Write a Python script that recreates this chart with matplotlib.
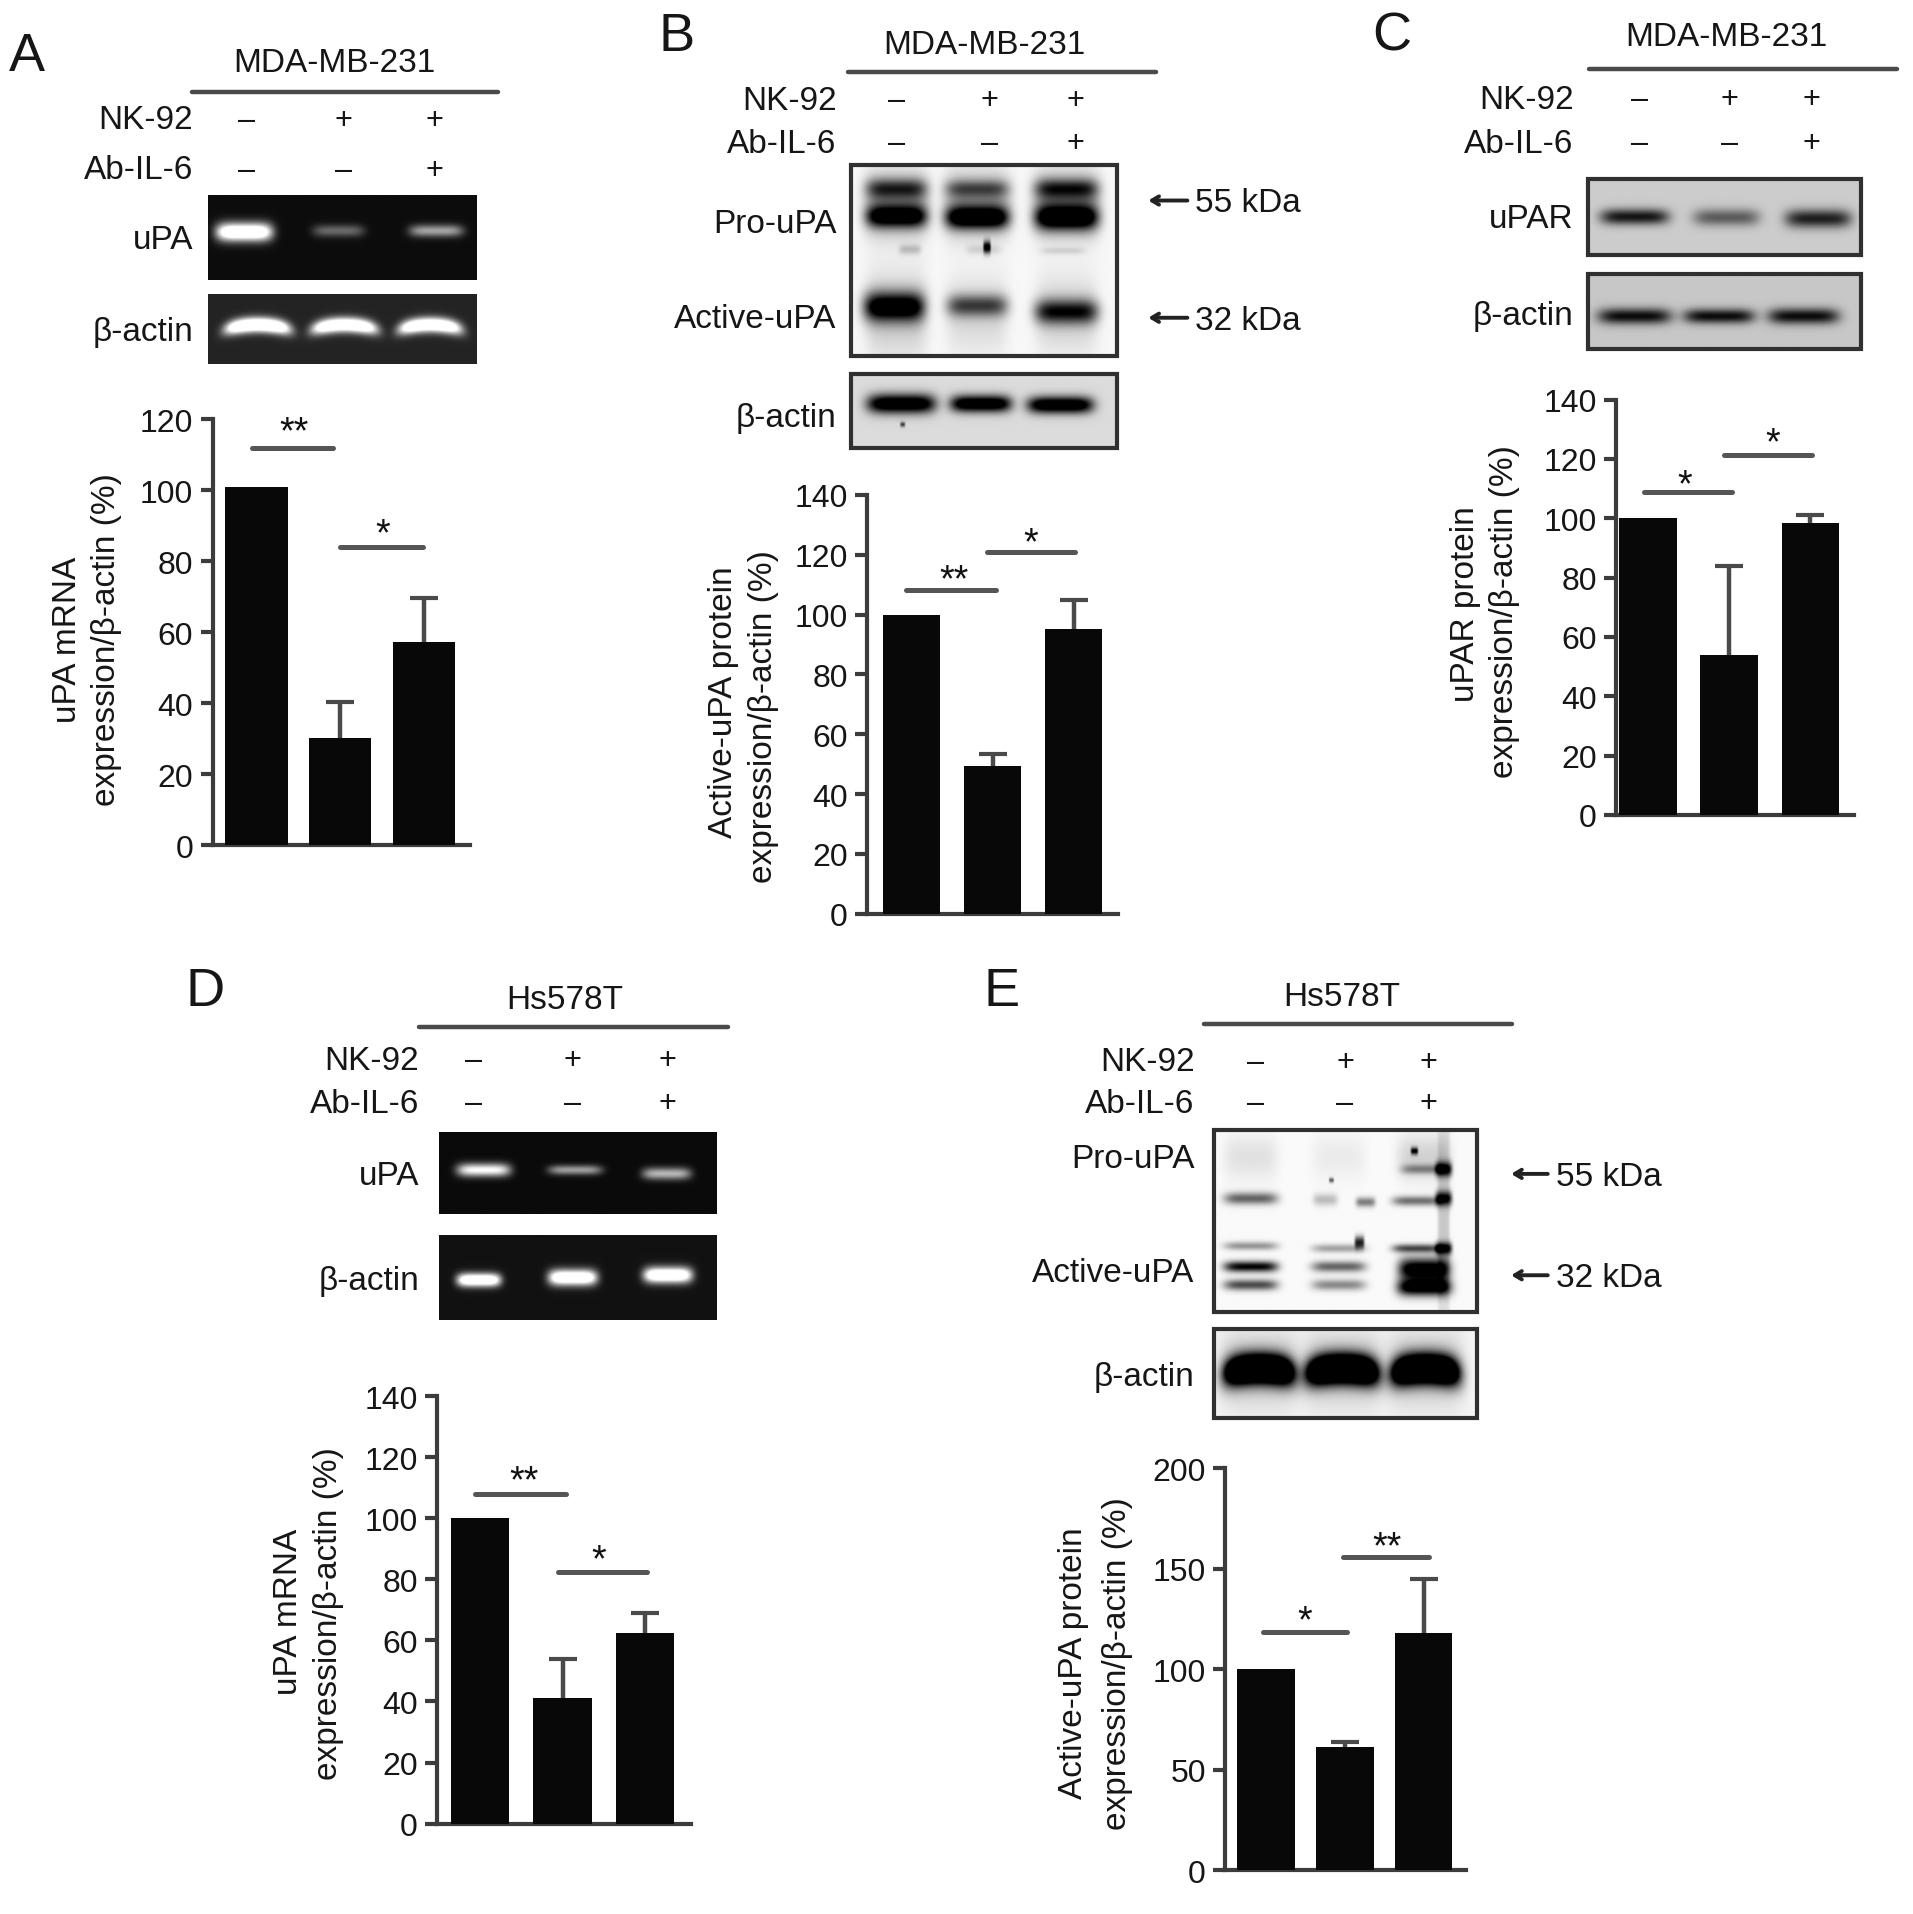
import numpy as np
import matplotlib
matplotlib.use("Agg")
import matplotlib.pyplot as plt
from matplotlib.patches import Rectangle

plt.rcParams['font.family'] = ['Liberation Sans', 'DejaVu Sans']

# values
groups = ["Control", "NK-92", "NK-92 + Ab-IL-6"]
a_values = [101, 30.2, 57.2]
a_err = [0, 10.1, 12.5]
b_values = [100, 49.5, 95]
b_err = [0, 4, 10]
c_values = [100, 54, 98.5]
c_err = [0, 30, 2.5]
d_values = [100, 41, 62.5]
d_err = [0, 13, 6.5]
e_values = [100, 61, 118]
e_err = [0, 2.5, 27]

a_ticks = [0, 20, 40, 60, 80, 100, 120]
b_ticks = [0, 20, 40, 60, 80, 100, 120, 140]
c_ticks = b_ticks
d_ticks = b_ticks
e_ticks = [0, 50, 100, 150, 200]

nk92_row = ["–", "+", "+"]
ab_row = ["–", "–", "+"]

# everything below is placed in the coordinates of the 1566x1568 preview
W, H = 1566.0, 1568.0
TEXT = '#161616'
LINE = '#3c3c3c'

fig = plt.figure(figsize=(19.13, 19.15), dpi=100, facecolor='white')
ov = fig.add_axes([0, 0, 1, 1], zorder=5)
ov.patch.set_alpha(0)
ov.axis('off')


def bar_panel(values, err, ticks, spine_x, y0, ytop, xend, centers, bar_w):
    pos = [spine_x / W, 1 - y0 / H, (xend - spine_x) / W, (y0 - ytop) / H]
    ax = fig.add_axes(pos)
    step = centers[1] - centers[0]
    ax.set_xlim((spine_x - centers[0]) / step, (xend - centers[0]) / step)
    ax.set_ylim(ticks[0], ticks[-1])
    x = np.arange(len(values))
    ax.bar(x, values, width=bar_w / step, color='#080808', zorder=3)
    eb = ax.errorbar(x[1:], values[1:], yerr=[np.zeros(2), err[1:]], fmt='none', ecolor='#4a4a4a',
                     elinewidth=3.2, capsize=10, capthick=3, zorder=2)
    # only the upper cap shows in the figure
    eb[1][0].set_visible(False)
    for s in ['top', 'right']:
        ax.spines[s].set_visible(False)
    for s in ['left', 'bottom']:
        ax.spines[s].set_linewidth(3)
        ax.spines[s].set_color(LINE)
    ax.set_xticks([])
    ax.set_yticks(ticks)
    ax.tick_params(axis='y', length=9, width=3, color=LINE, labelsize=23, labelcolor=TEXT, pad=5)
    return ax


def gel(box, blobs, bg, dark=False, border=True):
    x0, x1, y0, y1 = box
    xx, yy = np.meshgrid(np.linspace(x0, x1, int((x1 - x0) * 2)), np.linspace(y0, y1, int((y1 - y0) * 2)))
    layer = np.zeros_like(xx)
    for blob in blobs:
        cx, cy, sx, sy, amount = blob[:5]
        bend = blob[5] if len(blob) > 5 else 0
        u = (xx - cx) / sx
        layer += amount * np.exp(-np.abs(u) ** 5 - np.abs((yy - cy - bend * u ** 2) / sy) ** 2)
    layer = np.clip(layer, 0, 1)
    img = bg + (1 - bg) * layer if dark else bg * (1 - layer)
    ov.imshow(img, cmap='gray', vmin=0, vmax=1, extent=(x0, x1, y1, y0), aspect='auto',
              interpolation='bilinear', zorder=1)
    if border:
        ov.add_patch(Rectangle((x0, y0), x1 - x0, y1 - y0, fc='none', ec='#303030', lw=3, zorder=2))


def header(letter, lx, ly, cell, cx, cy, lx0, lx1, line_y, label_x, rows_y, marks_x):
    ov.text(lx, ly + 3, letter, fontsize=39, color=TEXT, ha='center', va='center')
    ov.text(cx, cy + 2, cell, fontsize=24, color=TEXT, ha='center', va='center')
    ov.plot([lx0, lx1], [line_y, line_y], color='#4a4a4a', lw=3.2, solid_capstyle='round')
    for name, row, y in zip(["NK-92", "Ab-IL-6"], [nk92_row, ab_row], rows_y):
        ov.text(label_x, y + 2, name, fontsize=24, color=TEXT, ha='right', va='center')
        for mx, mark in zip(marks_x, row):
            ov.text(mx, y + 2, mark, fontsize=22, color=TEXT, ha='center', va='center')


def side_labels(x, items):
    for label, y in items:
        ov.text(x, y + 2, label, fontsize=24, color=TEXT, ha='right', va='center')


def y_labels(x1, y1, first, x2, y2, second):
    ov.text(x1, y1, first, fontsize=24, color=TEXT, rotation=90, ha='center', va='center')
    ov.text(x2, y2, second, fontsize=24, color=TEXT, rotation=90, ha='center', va='center')


def sig(x0, x1, y, stars, sx, sy):
    ov.plot([x0, x1], [y, y], color='#555555', lw=3.6, solid_capstyle='round')
    ov.text(sx, sy + 6, stars, fontsize=27, color='#111111', ha='center', va='center')


def kda(x0, x1, tx, y, label):
    ov.annotate("", xy=(x0, y), xytext=(x1, y),
                arrowprops=dict(arrowstyle='->,head_length=0.5,head_width=0.3', lw=2.8, color='#222222',
                                shrinkA=0, shrinkB=0))
    ov.text(tx, y + 2, label, fontsize=24, color=TEXT, ha='left', va='center')


# ---- panel A
header("A", 22, 44, "MDA-MB-231", 274, 50, 157, 408, 76, 158, [97, 138], [202, 281, 356])
side_labels(158, [("uPA", 195), ("β-actin", 270)])
gel((170.5, 390, 161, 230), [(200, 191, 23, 7.5, 1.4), (277, 190, 21, 5, 0.38), (357, 190, 22, 5, 0.62)],
    0.05, dark=True, border=False)
gel((170.5, 390, 242, 299), [(211, 267, 27, 6, 1.6, 4), (282, 267, 27, 6, 1.5, 4), (352, 267, 26, 6, 1.5, 4)],
    0.14, dark=True, border=False)
bar_panel(a_values, a_err, a_ticks, 174, 693, 344, 385, [210, 278.5, 347.5], 51)
y_labels(55, 524, "uPA mRNA", 87, 524, "expression/β-actin (%)")
sig(206, 273, 368, "**", 241, 349)
sig(278, 346, 449, "*", 313, 432)

# ---- panel B
header("B", 554, 27, "MDA-MB-231", 806, 35, 694, 946, 60, 685, [81, 116], [734, 810, 880])
side_labels(685, [("Pro-uPA", 182), ("Active-uPA", 260), ("β-actin", 341)])
gel((697, 914, 136, 292),
    [(734, 168, 26, 24, 0.42), (800, 168, 27, 24, 0.42), (873, 168, 27, 24, 0.45),
     (734, 155, 25, 8, 0.6), (800, 155, 26, 7, 0.45), (873, 155, 26, 8, 0.65),
     (734, 178, 25, 9, 1.0), (800, 179, 26, 9, 1.1), (873, 179, 26, 10, 1.1),
     (734, 258, 25, 34, 0.2), (800, 258, 25, 30, 0.14), (873, 258, 25, 30, 0.17),
     (732, 252, 25, 12, 1.1), (800, 251, 25, 9, 0.65), (873, 256, 26, 10, 0.85),
     (808, 203, 3, 5, 1.0), (745, 205, 9, 4, 0.2), (805, 205, 14, 4, 0.12), (870, 206, 18, 3, 0.12)],
    0.97)
gel((697, 914, 307, 368), [(738, 332, 28, 8, 1.3), (803, 332, 25, 7, 1.3), (868, 333, 27, 7, 1.3), (739, 349, 2, 2, 0.7)],
    0.86)
bar_panel(b_values, b_err, b_ticks, 710, 749, 406, 915, [746, 812.5, 878.5], 47)
y_labels(592, 575, "Active-uPA protein", 625, 587, "expression/β-actin (%)")
kda(940, 972, 978, 165, "55 kDa")
kda(940, 972, 978, 261, "32 kDa")
sig(742, 815, 484, "**", 781, 470)
sig(808, 880, 453, "*", 844, 440)

# ---- panel C
header("C", 1139, 27, "MDA-MB-231", 1413, 29, 1301, 1553, 57, 1288, [80, 116], [1342, 1416, 1483])
side_labels(1288, [("uPAR", 178), ("β-actin", 257)])
gel((1300, 1523.5, 147, 209.5), [(1338, 178.5, 28, 6.5, 0.9), (1413, 179, 27, 7, 0.55), (1488, 180, 27, 7.5, 0.85)], 0.8)
gel((1300, 1523.5, 225, 286.5), [(1338, 260, 30, 6.5, 0.95), (1407, 260, 29, 6, 0.95), (1476, 260, 29, 6.5, 0.95)], 0.78)
bar_panel(c_values, c_err, c_ticks, 1323, 668, 328, 1518, [1349, 1415.5, 1482], 47)
y_labels(1200, 495, "uPAR protein", 1232, 501, "expression/β-actin (%)")
sig(1346, 1418, 404, "*", 1379, 392)
sig(1411, 1483, 373, "*", 1451, 358)

# ---- panel D
header("D", 168, 809, "Hs578T", 462, 817, 343, 596, 842, 343, [867, 902], [388, 469, 546])
side_labels(343, [("uPA", 961), ("β-actin", 1047)])
gel((359.5, 587, 928, 995), [(396, 959, 22, 5.5, 1.0), (471, 959, 22, 4, 0.6), (546, 962, 20, 5, 0.7)],
    0.04, dark=True, border=False)
gel((359.5, 587, 1012.5, 1081.5), [(392, 1049, 18, 5.5, 1.4), (469, 1047, 20, 6.5, 1.4), (547, 1045, 20, 6.5, 1.4)],
    0.07, dark=True, border=False)
bar_panel(d_values, d_err, d_ticks, 358, 1494, 1144, 566, [393, 460.5, 529], 48)
y_labels(236, 1320, "uPA mRNA", 269, 1321, "expression/β-actin (%)")
sig(389, 463, 1224, "**", 429, 1208)
sig(457, 530, 1288, "*", 490, 1272)

# ---- panel E
header("E", 820, 809, "Hs578T", 1098, 815, 986, 1238, 839, 978, [868, 902], [1028, 1101, 1169])
side_labels(978, [("Pro-uPA", 947), ("Active-uPA", 1041), ("β-actin", 1126)])
gel((994, 1209, 926, 1075),
    [(1024, 948, 22, 18, 0.1), (1096, 948, 22, 18, 0.06), (1166, 948, 22, 18, 0.16),
     (1024, 982, 22, 5, 0.6), (1085, 983, 10, 5, 0.25), (1118, 985, 8, 4, 0.5),
     (1160, 984, 20, 4, 0.55), (1182, 982, 7, 6, 0.9), (1165, 958, 18, 4, 0.4), (1182, 958, 7, 6, 0.9),
     (1158, 943, 3, 3, 0.9), (1182, 1000, 5, 90, 0.2), (1090, 967, 2, 2, 0.6),
     (1024, 1021, 22, 3.5, 0.4), (1096, 1023, 22, 3.5, 0.35), (1113, 1018, 4, 5, 0.85),
     (1160, 1023, 20, 3.5, 0.7), (1182, 1023, 7, 5, 0.95),
     (1024, 1038, 22, 4.5, 1.0), (1096, 1038, 22, 4.5, 0.6), (1166, 1040, 21, 9, 1.2),
     (1024, 1053, 22, 4.5, 0.7), (1096, 1053, 22, 4.5, 0.45), (1166, 1055, 22, 7, 1.2)],
    0.98)
gel((994, 1209, 1089, 1162),
    [(1031, 1122, 32, 30, 0.2), (1099, 1122, 32, 30, 0.2), (1167, 1122, 31, 30, 0.2),
     (1031, 1122, 29, 12, 2.0, 4), (1099, 1122, 30, 12, 2.0, 4), (1167, 1122, 28, 12, 2.0, 4)],
    0.96)
bar_panel(e_values, e_err, e_ticks, 1003, 1532, 1203, 1200, [1036.5, 1101, 1166.5], 47)
y_labels(879, 1362, "Active-uPA protein", 915, 1362, "expression/β-actin (%)")
kda(1237, 1267, 1274, 962, "55 kDa")
kda(1237, 1267, 1274, 1045, "32 kDa")
sig(1034, 1103, 1337, "*", 1068, 1322)
sig(1099, 1170, 1276, "**", 1135, 1262)

ov.set_xlim(0, W)
ov.set_ylim(H, 0)

fig.savefig("out.png", dpi=100)
